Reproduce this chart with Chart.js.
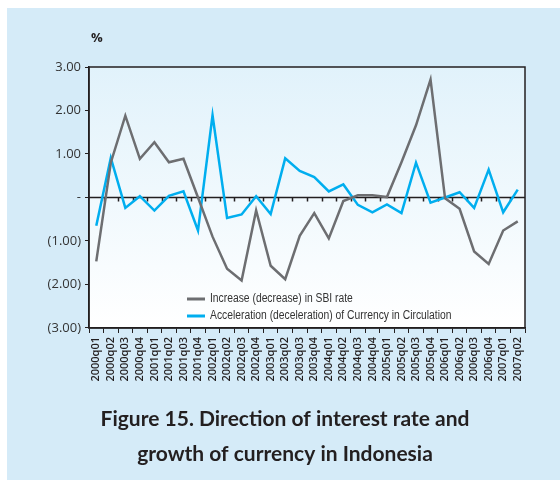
<!DOCTYPE html>
<html>
<head>
<meta charset="utf-8">
<script src="https://cdn.jsdelivr.net/npm/chart.js@4.4.1/dist/chart.umd.min.js"></script>
<style>
  html, body { margin: 0; padding: 0; background: #ffffff; }
  #wrap { width: 560px; height: 483px; }
</style>
</head>
<body>
<div id="wrap"><canvas id="chart" width="560" height="483"></canvas></div>
<script>
const quarters = [
  "2000q01", "2000q02", "2000q03", "2000q04", "2001q01", "2001q02", "2001q03", "2001q04",
  "2002q01", "2002q02", "2002q03", "2002q04", "2003q01", "2003q02", "2003q03", "2003q04",
  "2004q01", "2004q02", "2004q03", "2004q04", "2005q01", "2005q02", "2005q03", "2005q04",
  "2006q01", "2006q02", "2006q03", "2006q04", "2007q01", "2007q02",
];

// Increase (decrease) in SBI rate
const sbiRate = [
  -1.47, 0.80, 1.88, 0.89, 1.27, 0.81, 0.89, 0.00,
  -0.90, -1.64, -1.91, -0.30, -1.57, -1.88, -0.88, -0.36,
  -0.94, -0.08, 0.05, 0.05, 0.01, 0.81, 1.66, 2.71,
  -0.02, -0.26, -1.24, -1.53, -0.76, -0.55,
];

// Acceleration (deceleration) of Currency in Circulation
const currencyAccel = [
  -0.65, 0.91, -0.24, 0.03, -0.30, 0.04, 0.14, -0.76,
  1.89, -0.47, -0.39, 0.03, -0.38, 0.90, 0.61, 0.47,
  0.14, 0.30, -0.17, -0.34, -0.16, -0.36, 0.80, -0.12,
  0.00, 0.12, -0.24, 0.64, -0.34, 0.18,
];

const seriesNames = [
  "Increase (decrease) in SBI rate",
  "Acceleration (deceleration) of Currency in Circulation",
];
const seriesColors = ["#6d6e71", "#00aeef"];
const unitLabel = "%";
const titleLines = ["Figure 15. Direction of interest rate and", "growth of currency in Indonesia"];

// Formats ticks like the original: 1.00, -, (1.00)
const formatTick = (v) => {
  if (v === 0) return "-";
  if (v < 0) return "(" + Math.abs(v).toFixed(2) + ")";
  return v.toFixed(2);
};

// Background panel, plot gradient, zero line, frame, legend and unit label
const decorations = {
  id: "decorations",
  beforeDraw(chart) {
    const { ctx, chartArea: a } = chart;
    ctx.save();
    ctx.fillStyle = "#d5ebf8";
    ctx.fillRect(7, 8, 553, 472);
    const grad = ctx.createLinearGradient(0, a.top, 0, a.bottom);
    grad.addColorStop(0, "#e1f2fb");
    grad.addColorStop(1, "#ffffff");
    ctx.fillStyle = grad;
    ctx.fillRect(a.left, a.top, a.right - a.left, a.bottom - a.top);

    ctx.fillStyle = "#231f20";
    ctx.font = "bold 13px 'Open Sans'";
    ctx.textBaseline = "middle";
    ctx.fillText(unitLabel, 91, 38);
    ctx.restore();
  },
  beforeDatasetsDraw(chart) {
    const { ctx, chartArea: a, scales } = chart;
    const y0 = scales.y.getPixelForValue(0);
    const step = (a.right - a.left) / quarters.length;
    ctx.save();
    ctx.strokeStyle = "#231f20";
    ctx.lineWidth = 1.5;
    ctx.beginPath();
    ctx.moveTo(a.left, y0);
    ctx.lineTo(a.right, y0);
    for (let i = 1; i < quarters.length; i++) {
      const x = Math.round(a.left + i * step) + 0.5;
      ctx.moveTo(x, y0);
      ctx.lineTo(x, y0 + 4);
    }
    ctx.stroke();
    ctx.restore();
  },
  afterDraw(chart) {
    const { ctx, chartArea: a } = chart;
    ctx.save();
    ctx.strokeStyle = "#231f20";
    ctx.lineWidth = 1.5;
    ctx.strokeRect(a.left, a.top, a.right - a.left, a.bottom - a.top);

    // legend inside the plot area
    chart.data.datasets.forEach((ds, i) => {
      const y = 299 + i * 17;
      ctx.strokeStyle = ds.borderColor;
      ctx.lineWidth = 3;
      ctx.beginPath();
      ctx.moveTo(187, y);
      ctx.lineTo(205, y);
      ctx.stroke();
      ctx.fillStyle = "#333333";
      ctx.font = "12px 'Liberation Sans'";
      ctx.textBaseline = "middle";
      ctx.save();
      ctx.translate(210, y);
      ctx.scale(0.86, 1);
      ctx.fillText(ds.label, 0, 0);
      ctx.restore();
    });
    ctx.restore();
  },
};

const chart = new Chart(document.getElementById("chart"), {
  type: "line",
  plugins: [decorations],
  data: {
    labels: quarters,
    datasets: [
      {
        label: seriesNames[0],
        data: sbiRate,
        borderColor: seriesColors[0],
        borderWidth: 2.5,
        pointRadius: 0,
        tension: 0,
      },
      {
        label: seriesNames[1],
        data: currencyAccel,
        borderColor: seriesColors[1],
        borderWidth: 2.5,
        pointRadius: 0,
        tension: 0,
      },
    ],
  },
  options: {
    responsive: false,
    animation: false,
    layout: { padding: { left: 10, top: 67, right: 0, bottom: 6 } },
    plugins: {
      legend: { display: false },
      tooltip: { enabled: false },
      title: {
        display: true,
        position: "bottom",
        text: titleLines,
        color: "#231f20",
        font: { family: "Lato", size: 21, weight: "bold", lineHeight: 1.667 },
        padding: { top: 4, bottom: 5 },
      },
    },
    scales: {
      x: {
        offset: true,
        afterFit: (scale) => { scale.height = 70; },
        grid: {
          offset: true,
          drawOnChartArea: false,
          tickLength: 5,
          color: "#231f20",
        },
        border: { color: "#231f20", width: 1.5 },
        ticks: {
          autoSkip: false,
          minRotation: 90,
          maxRotation: 90,
          padding: 4,
          color: "#231f20",
          font: { family: "'Open Sans'", size: 11, weight: "600" },
        },
      },
      y: {
        min: -3,
        max: 3,
        afterFit: (scale) => { scale.width = 79; },
        grid: {
          drawOnChartArea: false,
          tickLength: 4,
          color: "#231f20",
        },
        border: { color: "#231f20", width: 1.5 },
        ticks: {
          stepSize: 1,
          padding: 4,
          color: "#333333",
          font: { family: "'Open Sans'", size: 13 },
          callback: formatTick,
        },
      },
      // empty right-hand axis that only reserves the right margin
      yRight: {
        position: "right",
        min: -3,
        max: 3,
        afterFit: (scale) => { scale.width = 35; },
        grid: { display: false },
        border: { display: false },
        ticks: { display: false },
      },
    },
  },
});
</script>
</body>
</html>
